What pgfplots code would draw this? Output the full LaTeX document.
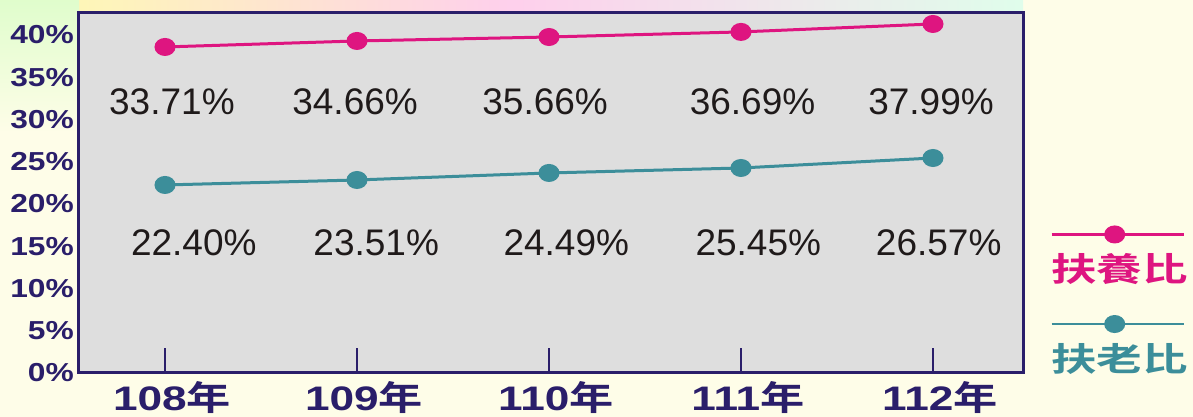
\documentclass[border=0pt]{standalone}
\usepackage{pgfplots}
\pgfplotsset{compat=1.18}
\usepackage{fontspec}
\setmainfont{Liberation Sans}
\newfontfamily\cjk{Noto Sans CJK TC Bold}
\definecolor{navy}{HTML}{2A1E6A}
\definecolor{pinkc}{HTML}{DE1580}
\definecolor{tealc}{HTML}{3C8E9A}
\definecolor{plotbg}{HTML}{DEDEDE}
\definecolor{cream}{HTML}{FEFDE8}
\definecolor{txt}{HTML}{1F1A1A}
\newcommand\yr[1]{\scalebox{1.3}[1]{\textbf{#1}{\cjk 年}}}
\newcommand\yl[1]{\scalebox{1.22}[1]{\textbf{#1\%}}}
\begin{document}
\begin{tikzpicture}[x=1pt,y=1pt]
\fill[cream] (-79,-44) rectangle (1114,373);
\shade[left color=yellow!25!cream, right color=cyan!12!cream, middle color=magenta!18!cream] (-79,345) rectangle (944,373);
\shade[top color=green!12!cream, bottom color=cream] (-79,240) rectangle (0,373);
\begin{axis}[
  at={(0,0)}, anchor=south west,
  scale only axis, width=944pt, height=360pt,
  xmin=-0.448, xmax=4.469, ymin=0, ymax=42.6,
  axis background/.style={fill=plotbg},
  axis line style={navy, line width=3pt},
  xtick={0,1,2,3,4},
  xticklabels={\yr{108},\yr{109},\yr{110},\yr{111},\yr{112}},
  xtick pos=lower, tick align=inside, major tick length=25pt,
  xtick style={navy, line width=2pt},
  xticklabel style={font=\fontsize{34}{36}\selectfont, text=navy, anchor=north, inner sep=0pt, yshift=-8pt, xshift=7pt},
  ytick={0,5,10,15,20,25,30,35,40},
  yticklabels={\yl{0},\yl{5},\yl{10},\yl{15},\yl{20},\yl{25},\yl{30},\yl{35},\yl{40}},
  ytick style={draw=none},
  yticklabel style={font=\fontsize{26}{28}\selectfont, text=navy, anchor=east, inner sep=0pt, xshift=-5pt},
  clip=false,
  legend style={draw=none, fill=none, at={(1,0)}, anchor=south west, xshift=25pt, yshift=0pt,
    inner sep=0pt, row sep=60pt, column sep=0pt, nodes={inner sep=0pt},
    font=\cjk\fontsize{33}{33}\selectfont},
  legend cell align=left,
]
\addplot[pinkc, line width=3pt, mark=*, mark size=7.5pt, mark options={xscale=1.2},
  legend image code/.code={\path (0,0); \draw[overlay,pinkc,line width=2.5pt] (2pt,34pt) -- (134pt,34pt); \fill[overlay,pinkc] (65pt,34pt) ellipse[x radius=9pt, y radius=7.5pt];}]
  coordinates {(0,38.58)(1,39.29)(2,39.76)(3,40.36)(4,41.30)};
\addlegendentry{\textcolor{pinkc}{\scalebox{1.38}[1]{扶養比}}}
\addplot[tealc, line width=3pt, mark=*, mark size=7.5pt, mark options={xscale=1.2},
  legend image code/.code={\path (0,0); \draw[overlay,tealc,line width=2.5pt] (2pt,34pt) -- (134pt,34pt); \fill[overlay,tealc] (65pt,34pt) ellipse[x radius=9pt, y radius=7.5pt];}]
  coordinates {(0,22.25)(1,22.84)(2,23.67)(3,24.26)(4,25.44)};
\addlegendentry{\textcolor{tealc}{\scalebox{1.38}[1]{扶老比}}}
\begin{scope}[every node/.style={font=\fontsize{37}{40}\selectfont, text=txt, inner sep=0pt}]
\node at (axis cs:0.036,32.07) {33.71\%};
\node at (axis cs:0.99,32.07) {34.66\%};
\node at (axis cs:1.98,32.07) {35.66\%};
\node at (axis cs:3.06,32.07) {36.69\%};
\node at (axis cs:3.99,32.07) {37.99\%};
\node at (axis cs:0.15,15.38) {22.40\%};
\node at (axis cs:1.10,15.38) {23.51\%};
\node at (axis cs:2.09,15.38) {24.49\%};
\node at (axis cs:3.09,15.38) {25.45\%};
\node at (axis cs:4.03,15.38) {26.57\%};
\end{scope}
\end{axis}
\end{tikzpicture}
\end{document}
